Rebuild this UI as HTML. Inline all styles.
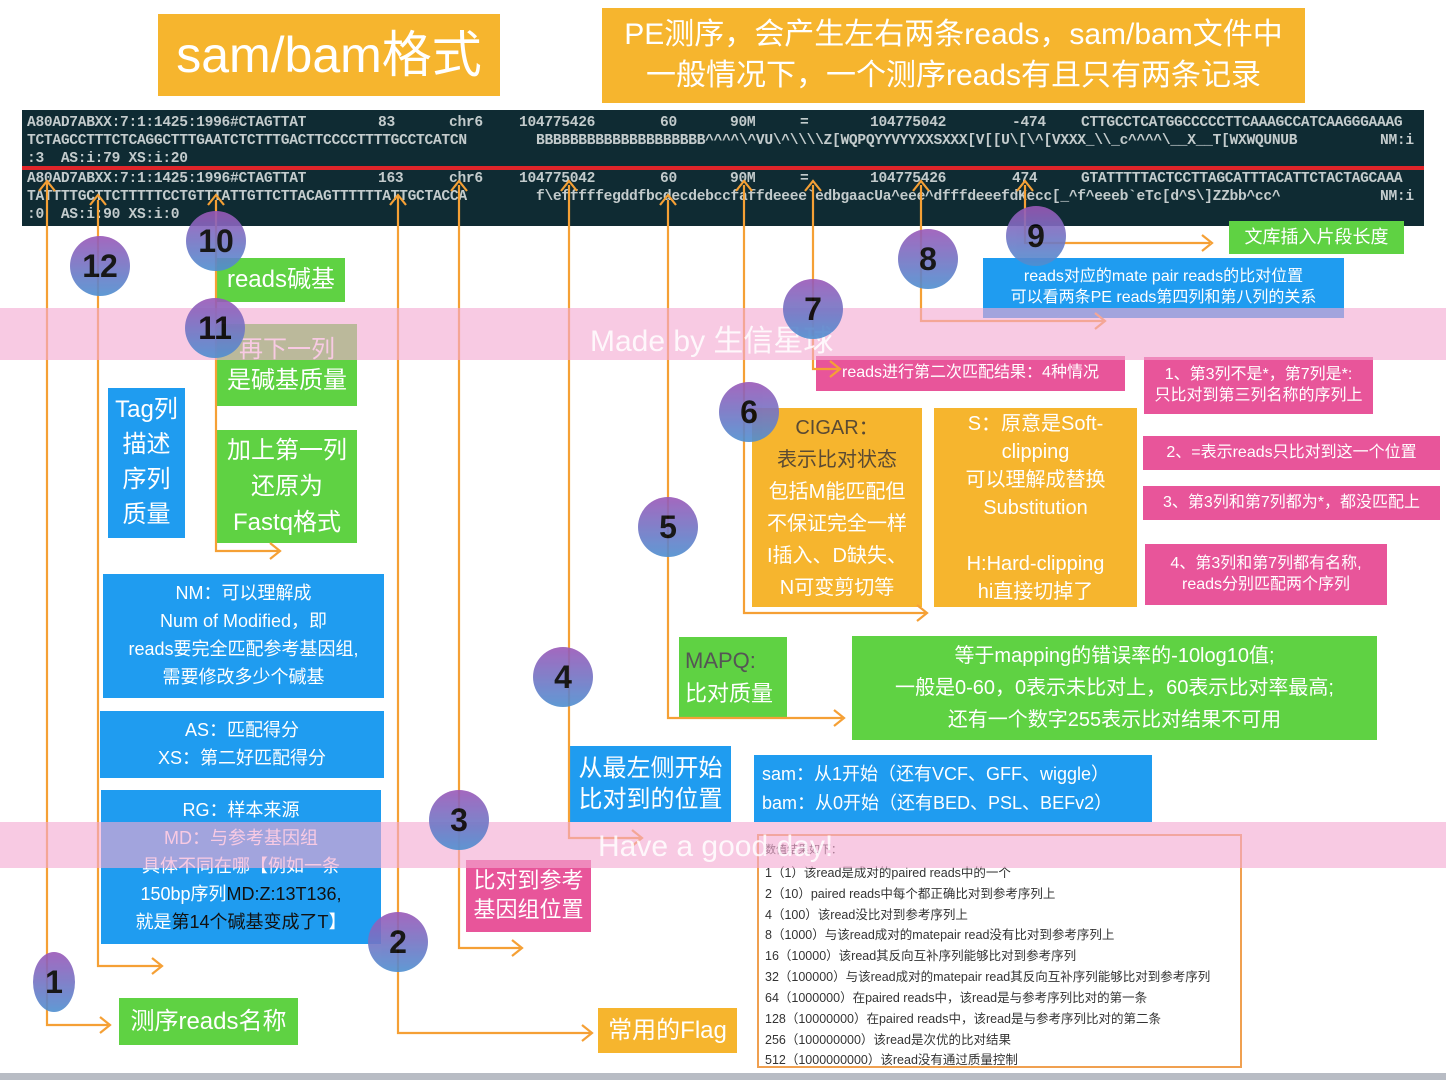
<!DOCTYPE html>
<html><head><meta charset="utf-8">
<style>
*{margin:0;padding:0;box-sizing:border-box}
body{width:1446px;height:1080px;position:relative;overflow:hidden;background:#fff;font-family:"Liberation Sans","Noto Sans CJK SC",sans-serif}
.b{position:absolute;color:#fff;text-align:center;display:flex;flex-direction:column;justify-content:center;align-items:center;line-height:1.3}
.o{background:#f6b52e}.g{background:#5fd243}.bl{background:#1f9cf0}.p{background:#e8559a}
.t{position:absolute;font-family:"Liberation Mono",monospace;font-size:14.6px;color:#c3cbcc;font-weight:bold;white-space:pre;letter-spacing:-0.3px}
.c{position:absolute;width:60px;height:60px;border-radius:50%;background:linear-gradient(#9a58b8,#4f8fd0);opacity:.9;color:#000;font-weight:bold;font-size:32px;display:flex;align-items:center;justify-content:center}
.band{position:absolute;left:0;width:1446px;background:rgba(244,170,210,.62)}
.wm{position:absolute;color:rgba(255,255,255,.85);font-size:30px}
.fl{position:absolute;left:765px;font-size:12.5px;color:#333;white-space:nowrap}
</style></head><body>

<div class="b o" style="left:158px;top:14px;width:342px;height:82px;font-size:50px">sam/bam格式</div>
<div class="b o" style="left:602px;top:8px;width:703px;height:95px;font-size:30px;line-height:1.35"><div>PE测序，会产生左右两条reads，sam/bam文件中<br>一般情况下，一个测序reads有且只有两条记录</div></div>

<div style="position:absolute;left:22px;top:110px;width:1402px;height:116px;background:#0f2b33"></div>
<div style="position:absolute;left:22px;top:166px;width:1402px;height:4px;background:#e0252a"></div>
<div class="t" style="left:27px;top:115px">A80AD7ABXX:7:1:1425:1996#CTAGTTAT</div>
<div class="t" style="left:378px;top:115px">83</div><div class="t" style="left:449px;top:115px">chr6</div>
<div class="t" style="left:519px;top:115px">104775426</div><div class="t" style="left:660px;top:115px">60</div>
<div class="t" style="left:730px;top:115px">90M</div><div class="t" style="left:800px;top:115px">=</div>
<div class="t" style="left:870px;top:115px">104775042</div><div class="t" style="left:1012px;top:115px">-474</div>
<div class="t" style="left:1081px;top:115px">CTTGCCTCATGGCCCCCTTCAAAGCCATCAAGGGAAAG</div>
<div class="t" style="left:27px;top:133px">TCTAGCCTTTCTCAGGCTTTGAATCTCTTTGACTTCCCCTTTTGCCTCATCN</div>
<div class="t" style="left:536px;top:133px">BBBBBBBBBBBBBBBBBBBB^^^^\^VU\^\\\\Z[WQPQYYVYYXXSXXX[V[[U\[\^[VXXX_\\_c^^^^\__X__T[WXWQUNUB</div>
<div class="t" style="left:1380px;top:133px">NM:i</div>
<div class="t" style="left:27px;top:151px">:3  AS:i:79 XS:i:20</div>
<div class="t" style="left:27px;top:171px">A80AD7ABXX:7:1:1425:1996#CTAGTTAT</div>
<div class="t" style="left:378px;top:171px">163</div><div class="t" style="left:449px;top:171px">chr6</div>
<div class="t" style="left:519px;top:171px">104775042</div><div class="t" style="left:660px;top:171px">60</div>
<div class="t" style="left:730px;top:171px">90M</div><div class="t" style="left:800px;top:171px">=</div>
<div class="t" style="left:870px;top:171px">104775426</div><div class="t" style="left:1012px;top:171px">474</div>
<div class="t" style="left:1081px;top:171px">GTATTTTTACTCCTTAGCATTTACATTCTACTAGCAAA</div>
<div class="t" style="left:27px;top:189px">TATTTTGCTTCTTTTTCCTGTTTATTGTTCTTACAGTTTTTTATTGCTACCA</div>
<div class="t" style="left:536px;top:189px">f\efffffegddfbcdecdebccfaffdeeee`edbgaacUa^eee^dfffdeeefdKecc[_^f^eeeb`eTc[d^S\]ZZbb^cc^</div>
<div class="t" style="left:1380px;top:189px">NM:i</div>
<div class="t" style="left:27px;top:207px">:0  AS:i:90 XS:i:0</div>

<div class="b g" style="left:217px;top:258px;width:128px;height:44px;font-size:24px">reads碱基</div>
<div class="b g" style="left:217px;top:324px;width:140px;height:82px;font-size:24px"><div>再下一列<br>是碱基质量</div></div>
<div class="b g" style="left:217px;top:430px;width:140px;height:113px;font-size:24px;line-height:1.5"><div>加上第一列<br>还原为<br>Fastq格式</div></div>
<div class="b bl" style="left:108px;top:388px;width:77px;height:150px;font-size:24px;line-height:1.45"><div>Tag列<br>描述<br>序列<br>质量</div></div>
<div class="b bl" style="left:103px;top:574px;width:281px;height:124px;font-size:18px;line-height:1.55"><div>NM：可以理解成<br>Num of Modified，即<br>reads要完全匹配参考基因组,<br>需要修改多少个碱基</div></div>
<div class="b bl" style="left:100px;top:711px;width:284px;height:67px;font-size:18px;line-height:1.55"><div>AS：匹配得分<br>XS：第二好匹配得分</div></div>
<div class="b bl" style="left:101px;top:790px;width:280px;height:154px;font-size:18px;line-height:1.55"><div>RG：样本来源<br>MD：与参考基因组<br>具体不同在哪【例如一条<br>150bp序列<span style="color:#111">MD:Z:13T136,</span><br>就是<span style="color:#111">第14个碱基变成了T</span>】</div></div>
<div class="b g" style="left:119px;top:998px;width:179px;height:47px;font-size:24px">测序reads名称</div>
<div class="b o" style="left:598px;top:1008px;width:139px;height:45px;font-size:24px">常用的Flag</div>
<div class="b p" style="left:466px;top:860px;width:125px;height:72px;font-size:22px"><div>比对到参考<br>基因组位置</div></div>
<div class="b bl" style="left:570px;top:746px;width:161px;height:76px;font-size:24px"><div>从最左侧开始<br>比对到的位置</div></div>
<div class="b bl" style="left:754px;top:755px;width:398px;height:67px;font-size:18px;align-items:flex-start;padding-left:8px;line-height:1.6"><div style="text-align:left">sam：从1开始（还有VCF、GFF、wiggle）<br>bam：从0开始（还有BED、PSL、BEFv2）</div></div>
<div class="b g" style="left:679px;top:637px;width:108px;height:80px;font-size:22px;align-items:flex-start;padding-left:6px;line-height:1.5"><div style="text-align:left"><span style="color:#555">MAPQ:</span><br>比对质量</div></div>
<div class="b g" style="left:852px;top:636px;width:525px;height:104px;font-size:20px;line-height:1.6"><div>等于mapping的错误率的-10log10值;<br>一般是0-60，0表示未比对上，60表示比对率最高;<br>还有一个数字255表示比对结果不可用</div></div>
<div class="b o" style="left:752px;top:408px;width:170px;height:199px;font-size:20px;line-height:1.6"><div><span style="color:#5a4a33">CIGAR：<br>表示比对状态</span><br>包括M能匹配但<br>不保证完全一样<br>I插入、D缺失、<br>N可变剪切等</div></div>
<div class="b o" style="left:934px;top:408px;width:203px;height:199px;font-size:20px;line-height:1.4"><div>S：原意是Soft-<br>clipping<br>可以理解成替换<br>Substitution<br><br>H:Hard-clipping<br>hi直接切掉了</div></div>
<div class="b p" style="left:816px;top:356px;width:309px;height:35px;font-size:16px">reads进行第二次匹配结果：4种情况</div>
<div class="b p" style="left:1144px;top:357px;width:229px;height:57px;font-size:16px"><div>1、第3列不是*，第7列是*:<br>只比对到第三列名称的序列上</div></div>
<div class="b p" style="left:1143px;top:436px;width:297px;height:34px;font-size:16px">2、=表示reads只比对到这一个位置</div>
<div class="b p" style="left:1143px;top:486px;width:297px;height:34px;font-size:16px">3、第3列和第7列都为*，都没匹配上</div>
<div class="b p" style="left:1145px;top:544px;width:242px;height:61px;font-size:16px"><div>4、第3列和第7列都有名称,<br>reads分别匹配两个序列</div></div>
<div class="b bl" style="left:983px;top:258px;width:361px;height:60px;font-size:16px"><div>reads对应的mate pair reads的比对位置<br>可以看两条PE reads第四列和第八列的关系</div></div>
<div class="b g" style="left:1229px;top:221px;width:175px;height:33px;font-size:18px">文库插入片段长度</div>

<div style="position:absolute;left:757px;top:834px;width:485px;height:234px;border:2px solid #f0a050;background:#fff"></div>
<div class="fl" style="top:841px;font-size:11px">数值结果如下：</div>
<div class="fl" style="top:862px">1（1）该read是成对的paired reads中的一个</div>
<div class="fl" style="top:883px">2（10）paired reads中每个都正确比对到参考序列上</div>
<div class="fl" style="top:904px">4（100）该read没比对到参考序列上</div>
<div class="fl" style="top:924px">8（1000）与该read成对的matepair read没有比对到参考序列上</div>
<div class="fl" style="top:945px">16（10000）该read其反向互补序列能够比对到参考序列</div>
<div class="fl" style="top:966px">32（100000）与该read成对的matepair read其反向互补序列能够比对到参考序列</div>
<div class="fl" style="top:987px">64（1000000）在paired reads中，该read是与参考序列比对的第一条</div>
<div class="fl" style="top:1008px">128（10000000）在paired reads中，该read是与参考序列比对的第二条</div>
<div class="fl" style="top:1029px">256（100000000）该read是次优的比对结果</div>
<div class="fl" style="top:1049px">512（1000000000）该read没有通过质量控制</div>

<div style="position:absolute;left:0;top:1073px;width:1446px;height:7px;background:#b8bcc4"></div>

<svg style="position:absolute;left:0;top:0" width="1446" height="1080" fill="none" stroke="#f5a035" stroke-width="2.2">
<path d="M47 183V1025H108M98 200V966H160M216 200V551H278M398 195V1033H590M459 185V948H520M569 185V838H640M668 200V718H842M744 185V613H925M813 185V369H838M921 185V321H1103M1025 185V243H1210"/>
<path d="M100 1017l10 8-10 8M152 958l10 8-10 8M270 543l10 8-10 8M582 1025l10 8-10 8M512 940l10 8-10 8M632 830l10 8-10 8M834 710l10 8-10 8M917 605l10 8-10 8M830 361l10 8-10 8M1095 313l10 8-10 8M1202 235l10 8-10 8"/>
<path d="M39 191l8-10 8 10M90 205l8-10 8 10M208 205l8-10 8 10M390 205l8-10 8 10M451 191l8-10 8 10M561 191l8-10 8 10M660 205l8-10 8 10M736 191l8-10 8 10M805 191l8-10 8 10M913 191l8-10 8 10M1017 191l8-10 8 10"/>
</svg>

<div class="band" style="top:308px;height:52px"></div>
<div class="band" style="top:822px;height:46px"></div>
<div class="wm" style="left:590px;top:316px">Made by 生信星球</div>
<div class="wm" style="left:598px;top:830px">Have a good day!</div>

<div class="c" style="left:70px;top:236px">12</div>
<div class="c" style="left:186px;top:211px">10</div>
<div class="c" style="left:185px;top:298px">11</div>
<div class="c" style="left:1006px;top:206px">9</div>
<div class="c" style="left:898px;top:229px">8</div>
<div class="c" style="left:783px;top:279px">7</div>
<div class="c" style="left:719px;top:382px">6</div>
<div class="c" style="left:638px;top:497px">5</div>
<div class="c" style="left:533px;top:647px">4</div>
<div class="c" style="left:429px;top:790px">3</div>
<div class="c" style="left:368px;top:912px">2</div>
<div class="c" style="left:33px;top:952px;width:42px">1</div>
</body></html>
